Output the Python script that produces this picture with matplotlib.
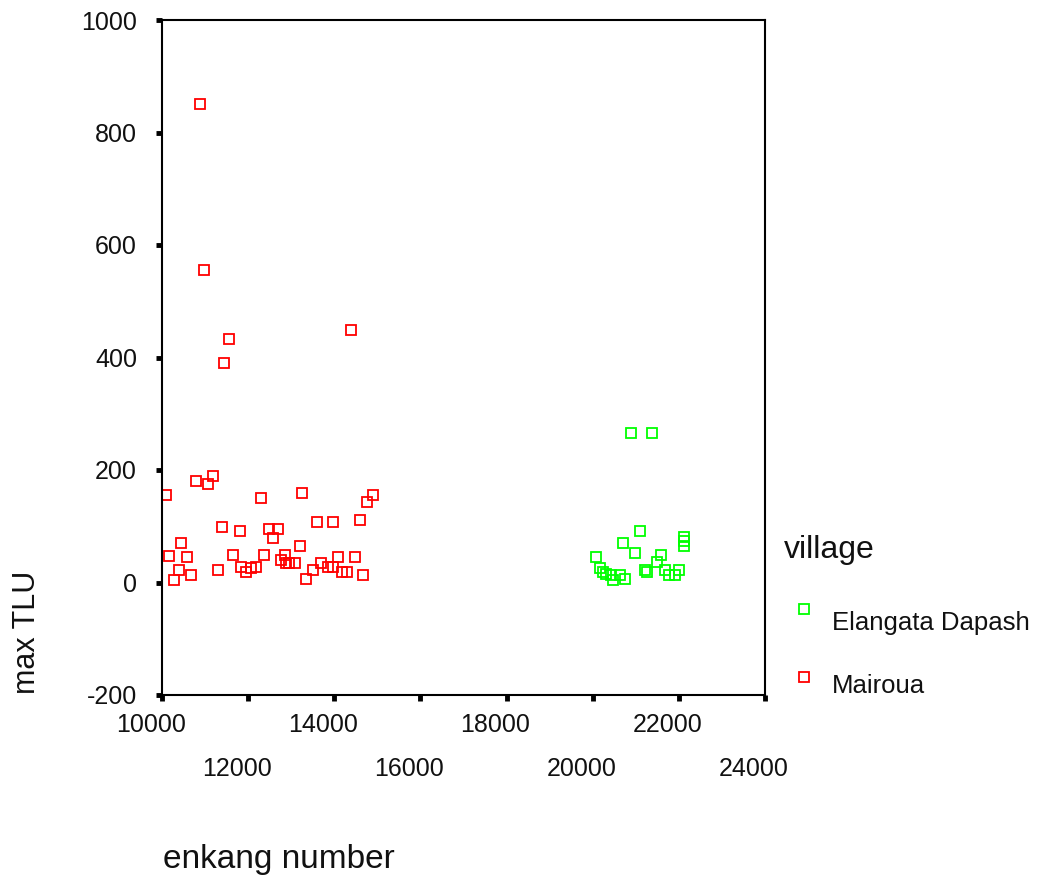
import matplotlib
matplotlib.use('Agg')
import matplotlib.pyplot as plt
import matplotlib.transforms as mtransforms
from matplotlib.lines import Line2D

plt.rcParams['font.family'] = ['Liberation Sans', 'DejaVu Sans']

# Mairoua (red)
mairoua_x = [10890, 10970, 11560, 11450, 14380,
             10790, 11060, 11180, 10100, 12300, 13260, 14890, 14750,
             13590, 13980, 14600, 11390, 11810, 12480, 12690, 12570, 10450, 13210,
             10160, 10570, 11660, 12360, 12850, 12770, 12890, 13080, 12960, 14090,
             14480, 13700, 13860, 13960, 13510, 14170, 14290, 14660, 13350,
             10400, 10680, 10280, 11290, 11840, 11940, 12070, 12190]
mairoua_y = [851, 556, 433, 391, 449,
             180, 176, 189, 156, 151, 159, 156, 143,
             108, 108, 112, 99, 92, 95, 95, 79, 70, 65,
             48, 45, 49, 49, 49, 40, 35, 35, 35, 45,
             45, 34, 27, 27, 23, 19, 19, 13, 6,
             23, 13, 4, 23, 28, 19, 25, 28]

# Elangata Dapash (green)
elangata_x = [20880, 21380, 21100, 22110, 22110, 22110, 20710, 20980, 21580,
              20080, 21490, 20160, 20240, 20320, 20430, 20470, 20630, 20760,
              21210, 21250, 21680, 21760, 21910, 22000]
elangata_y = [265, 265, 92, 81, 73, 65, 70, 52, 49,
              45, 37, 25, 19, 16, 13, 4, 13, 6,
              22, 19, 22, 13, 13, 23]

x_ticks = [10000, 12000, 14000, 16000, 18000, 20000, 22000, 24000]
y_ticks = [-200, 0, 200, 400, 600, 800, 1000]

RED = '#ff0000'
GREEN = '#00ff00'
TXT = '#111111'

fig = plt.figure(figsize=(10.4, 8.83), dpi=100)
ax = fig.add_axes([162 / 1040, 1 - 695 / 883, 603 / 1040, 675 / 883])

ax.plot(mairoua_x, mairoua_y, 's', ms=6.8, mfc='none', mec=RED, mew=1.3, ls='none')
ax.plot(elangata_x, elangata_y, 's', ms=6.8, mfc='none', mec=GREEN, mew=1.3, ls='none')

ax.set_xlim(10000, 24000)
ax.set_ylim(-200, 1000)
ax.set_xticks(x_ticks)
ax.set_yticks(y_ticks)
ax.set_xticklabels([str(v) for v in x_ticks])
ax.set_yticklabels([str(v) for v in y_ticks])

for s in ax.spines.values():
    s.set_linewidth(1.5)
ax.tick_params(axis='both', direction='out', length=4, width=3.5,
               labelsize=18, labelcolor=TXT)
ax.tick_params(axis='y', pad=14)

# staggered x tick labels, like the original
shift = mtransforms.ScaledTranslation(-8 / 72, 0, fig.dpi_scale_trans)
for i, tick in enumerate(ax.xaxis.get_major_ticks()):
    tick.set_pad(9 if i % 2 == 0 else 41)
for lab in ax.get_xticklabels():
    lab.set_transform(lab.get_transform() + shift)

fig.text(163 / 1040, 1 - 868 / 883, 'enkang number', fontsize=24,
         color=TXT, ha='left', va='baseline')
fig.text(27 / 1040, 1 - 632 / 883, 'max TLU', fontsize=22, color=TXT,
         rotation=90, ha='center', va='center')

# legend
fig.text(784 / 1040, 1 - 558 / 883, 'village', fontsize=23, color=TXT,
         ha='left', va='baseline')
fig.text(832 / 1040, 1 - 630 / 883, 'Elangata Dapash', fontsize=18.5,
         color=TXT, ha='left', va='baseline')
fig.text(832 / 1040, 1 - 693 / 883, 'Mairoua', fontsize=18.5,
         color=TXT, ha='left', va='baseline')
fig.add_artist(Line2D([803.5 / 1040], [1 - 609 / 883], marker='s', ms=6.5,
                      mfc='none', mec=GREEN, mew=1.3, ls='none',
                      transform=fig.transFigure))
fig.add_artist(Line2D([803.5 / 1040], [1 - 677 / 883], marker='s', ms=6.5,
                      mfc='none', mec=RED, mew=1.3, ls='none',
                      transform=fig.transFigure))

fig.savefig('out.png', dpi=100, facecolor='white')
